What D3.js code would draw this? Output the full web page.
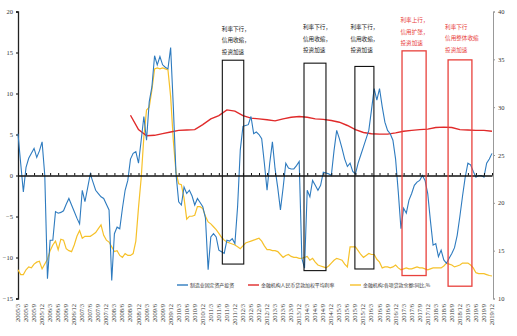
<!DOCTYPE html>
<html><head><meta charset="utf-8">
<script src="https://cdn.jsdelivr.net/npm/d3@7"></script>
<style>body{margin:0;background:#fff}svg{display:block}</style>
</head><body><svg id="c" width="517" height="336"></svg>
<script>
// ---------- DATA ----------
const startYear = 2005, startMonth = 3, monthCount = 178; // 2005/3 .. 2019/12
const tickLabels = [
"2005/3","2005/6","2005/9","2005/12","2006/3","2006/6","2006/9","2006/12",
"2007/3","2007/6","2007/9","2007/12","2008/3","2008/6","2008/9","2008/12",
"2009/3","2009/6","2009/9","2009/12","2010/3","2010/6","2010/9","2010/12",
"2011/3","2011/6","2011/9","2011/12","2012/3","2012/6","2012/9","2012/12",
"2013/3","2013/6","2013/9","2013/12","2014/3","2014/6","2014/9","2014/12",
"2015/3","2015/6","2015/9","2015/12","2016/3","2016/6","2016/9","2016/12",
"2017/3","2017/6","2017/9","2017/12","2018/3","2018/6","2018/9","2018/12",
"2019/3","2019/6","2019/9","2019/12"];
const leftTicks = [-15,-10,-5,0,5,10,15,20];
const rightTicks = [10,15,20,25,30,35,40];

// 制造业固定资产投资 (left axis), monthly
const manuFAI = [
5.1,1.5,-2.0,1.0,2.1,2.7,3.3,2.2,3.0,4.1,
0.0,-12.6,-7.9,-7.9,-4.4,-4.6,-4.5,-4.3,-3.5,-2.8,
-3.6,-4.4,-5.2,-5.9,-1.8,-3.2,-1.5,0.2,-0.8,-1.8,
-2.2,-2.6,-2.8,-3.5,-4.2,-12.8,-7.1,-6.3,-6.5,-4.0,
-1.8,-0.6,2.0,2.7,2.9,1.5,4.3,7.2,4.3,9.0,
10.8,14.6,13.5,14.5,13.5,13.2,13.0,15.6,8.4,0.2,
-3.2,-3.6,-1.4,-2.2,-1.8,-2.5,-3.6,-2.8,-3.3,-3.8,
-5.2,-11.5,-7.5,-7.1,-7.5,-9.1,-9.3,-9.5,-7.9,-8.0,
-7.7,-8.3,-3.8,3.1,6.0,6.1,6.2,7.2,5.1,5.3,
5.0,4.5,1.5,-1.8,1.5,4.1,0.8,-1.5,-4.2,-1.5,
1.5,0.9,0.8,0.8,1.2,1.7,-10.1,-11.3,-1.8,-2.6,
-0.6,-1.2,-1.8,-1.2,0.4,0.3,0.2,0.0,3.0,5.5,
4.5,3.3,2.0,1.1,1.5,0.5,0.2,1.5,2.5,3.5,
4.5,5.5,8.0,10.6,9.2,10.6,8.4,6.5,5.5,5.1,
4.3,2.0,-2.0,-6.5,-4.0,-4.6,-3.0,-2.2,-1.2,-0.8,
-0.6,0.0,-0.6,-2.2,-5.5,-8.5,-8.3,-9.9,-9.1,-10.3,
-10.7,-10.1,-9.5,-8.8,-7.3,-5.0,-2.5,-0.2,1.5,1.3,
0.5,-0.2,0.0,0.0,-0.2,1.5,2.0,2.7];

// 金融机构:各项贷款余额:同比,% (right axis), monthly
const loanGrowth = [
13.0,12.5,12.5,13.0,13.3,13.2,13.6,13.8,13.9,13.1,
13.6,14.1,15.0,15.6,16.0,15.1,16.2,16.1,15.2,15.0,
14.9,15.6,16.5,17.1,16.3,16.5,16.5,16.5,16.7,16.9,
17.3,17.7,16.6,16.1,15.9,15.4,14.9,15.0,14.5,14.3,
14.7,14.5,14.5,14.7,16.0,19.5,22.6,26.9,29.7,30.0,
31.8,34.0,34.1,34.0,34.1,34.0,33.9,31.1,26.5,23.2,
22.0,21.9,20.5,18.3,18.6,18.6,18.7,19.6,19.6,19.4,
18.6,18.0,17.8,17.5,17.2,16.8,16.4,16.1,15.9,15.8,
15.7,15.6,15.4,15.2,15.5,15.8,15.9,16.0,16.1,16.2,
16.3,16.0,15.5,15.1,15.1,15.0,15.0,14.9,14.6,14.3,
14.5,14.6,14.4,14.3,14.3,14.2,14.2,14.3,14.4,14.0,
14.2,13.8,13.5,13.4,13.3,13.2,13.4,13.7,14.0,14.2,
14.1,14.0,13.6,13.3,15.4,15.4,15.4,15.0,14.6,14.3,
14.5,14.7,14.6,14.6,14.1,13.8,13.2,13.3,13.3,13.2,
13.3,13.5,13.2,13.0,13.1,13.2,13.1,13.1,13.2,13.3,
13.2,13.2,13.1,13.0,13.1,13.2,13.2,13.2,13.2,13.4,
13.7,13.6,13.5,13.3,13.4,13.5,13.7,13.7,13.7,13.5,
13.2,12.7,12.6,12.6,12.6,12.5,12.4,12.35];

// 金融机构人民币贷款加权平均利率 (left axis), quarterly
const rateDates = ["2008/9","2008/12","2009/3","2009/6","2009/9","2009/12","2010/3","2010/6","2010/9","2010/12",
"2011/3","2011/6","2011/9","2011/12","2012/3","2012/6","2012/9","2012/12","2013/3","2013/6","2013/9","2013/12",
"2014/3","2014/6","2014/9","2014/12","2015/3","2015/6","2015/9","2015/12","2016/3","2016/6","2016/9","2016/12",
"2017/3","2017/6","2017/9","2017/12","2018/3","2018/6","2018/9","2018/12","2019/3","2019/6","2019/9","2019/12"];
const rateValues = [7.35,5.6,4.85,4.9,5.1,5.3,5.5,5.55,5.6,6.2,
6.9,7.3,8.0,7.85,7.3,7.0,6.9,6.8,6.66,6.9,7.1,7.2,
7.1,6.9,6.85,6.7,6.5,6.1,5.6,5.25,5.1,5.05,5.05,5.2,
5.4,5.5,5.6,5.65,5.85,5.9,5.85,5.6,5.55,5.5,5.5,5.4];

// highlighted periods (month index from 2005/3, left-axis values)
const boxStart = [76.3,106.8,125.8,143.4,160.6];
const boxEnd   = [84.3,115.0,132.9,152.4,169.5];
const boxTop   = [14.06,13.7,13.3,15.2,14.1];
const boxBottom= [-10.8,-11.6,-11.4,-12.2,-13.5];
const boxKind  = ["black","black","black","red","red"];
const boxNotes = [
 ["利率下行，","信用收缩，","投资加速"],
 ["利率下行，","信用收缩，","投资加速"],
 ["利率下行，","信用收缩，","投资加速"],
 ["利率上行，","信用扩张，","投资加速"],
 ["利率下行","信用整体收缩","投资加速"]];

const seriesNames = ["制造业固定资产投资","金融机构人民币贷款加权平均利率","金融机构:各项贷款余额:同比,%"];

// ---------- LAYOUT ----------
const months = [];
{ let y = startYear, m = startMonth;
  for (let i = 0; i < monthCount; i++) { months.push(y + "/" + m); m++; if (m > 12) { m = 1; y++; } } }
const idxOf = d => months.indexOf(d);

const svg = d3.select("#c");
const x = d3.scaleLinear().domain([0, monthCount - 1]).range([18, 492]);
const yL = d3.scaleLinear().domain([-15, 20]).range([298.5, 11.5]);
const yR = d3.scaleLinear().domain([10, 40]).range([298.5, 11.5]);

const colBlue = "#2e7bbf", colRed = "#e02a2a", colYellow = "#f6c12a", colBoxRed = "#e8413c";
const numFont = "'Liberation Serif','Times New Roman',serif";
const cjkFont = "'Noto Sans CJK SC',sans-serif";

// left axis
const gL = svg.append("g").attr("transform", "translate(18,0)")
  .call(d3.axisLeft(yL).tickValues(leftTicks).tickSize(2).tickPadding(3));
gL.select(".domain").attr("stroke", "#222").attr("stroke-width", 1.3);
gL.selectAll("text").attr("font-family", numFont).attr("font-size", 6.5).attr("fill", "#333");

// right axis
const gR = svg.append("g").attr("transform", "translate(493,0)")
  .call(d3.axisRight(yR).tickValues(rightTicks).tickSize(2).tickPadding(3));
gR.select(".domain").attr("stroke", "#999").attr("stroke-width", 1);
gR.selectAll(".tick line").attr("stroke", "#999");
gR.selectAll("text").attr("font-family", numFont).attr("font-size", 6.5).attr("fill", "#333");

// x tick labels (rotated)
const tickIdx = tickLabels.map(idxOf);
svg.append("g").selectAll("text").data(tickLabels).join("text")
  .attr("transform", (d, i) => `translate(${x(tickIdx[i]) + 2},304) rotate(-90)`)
  .attr("text-anchor", "end")
  .attr("font-family", numFont).attr("font-size", 6.5).attr("fill", "#333")
  .text(d => d);

// lines
const lineL = d3.line().x(d => x(d[0])).y(d => yL(d[1]));
const lineR = d3.line().x(d => x(d[0])).y(d => yR(d[1]));

svg.append("path").datum(loanGrowth.map((v, i) => [i, v]))
  .attr("d", lineR).attr("fill", "none").attr("stroke", colYellow).attr("stroke-width", 1.2);
svg.append("path").datum(rateDates.map((d, i) => [idxOf(d), rateValues[i]]))
  .attr("d", lineL).attr("fill", "none").attr("stroke", colRed).attr("stroke-width", 1.4);
svg.append("path").datum(manuFAI.map((v, i) => [i, v]))
  .attr("d", lineL).attr("fill", "none").attr("stroke", colBlue).attr("stroke-width", 1.1);

// zero axis line with quarterly ticks
const gZ = svg.append("g").attr("transform", `translate(0,${yL(0)})`)
  .call(d3.axisBottom(x).tickValues(tickIdx).tickSize(-2.5).tickSizeOuter(0).tickFormat(""));
gZ.select(".domain").attr("stroke", "#111").attr("stroke-width", 1.4);
gZ.selectAll(".tick line").attr("stroke", "#111").attr("stroke-width", 1);

// boxes
const boxes = boxStart.map((s, i) => ({s, e: boxEnd[i], t: boxTop[i], b: boxBottom[i], k: boxKind[i], notes: boxNotes[i]}));
svg.append("g").selectAll("rect").data(boxes).join("rect")
  .attr("x", d => x(d.s)).attr("y", d => yL(d.t))
  .attr("width", d => x(d.e) - x(d.s)).attr("height", d => yL(d.b) - yL(d.t))
  .attr("fill", "none")
  .attr("stroke", d => d.k === "red" ? colBoxRed : "#111")
  .attr("stroke-width", d => d.k === "red" ? 1.3 : 1.1);

// annotations (placement offsets relative to each box)
const noteDx = [-0.5, -1, -4.5, -1.5, -3];
const noteY0 = [29, 27.5, 27.5, 20.5, 27];
const gN = svg.append("g");
boxes.forEach((d, i) => {
  d.notes.forEach((line, j) => {
    gN.append("text")
      .attr("x", x(d.s) + noteDx[i]).attr("y", noteY0[i] + j * 11.3)
      .attr("dy", "0.35em")
      .attr("font-family", cjkFont).attr("font-size", 5.6)
      .attr("fill", d.k === "red" ? colBoxRed : "#222")
      .text(line);
  });
});

// legend
const legendX = [177, 248, 350];
const legendCol = [colBlue, colRed, colYellow];
const gLeg = svg.append("g");
seriesNames.forEach((n, i) => {
  gLeg.append("line").attr("x1", legendX[i]).attr("x2", legendX[i] + 11)
    .attr("y1", 285).attr("y2", 285).attr("stroke", legendCol[i]).attr("stroke-width", 1.4);
  gLeg.append("text").attr("x", legendX[i] + 13).attr("y", 285).attr("dy", "0.35em")
    .attr("font-family", cjkFont).attr("font-size", 4.9).attr("fill", "#333").text(n);
});
</script>
</body></html>
